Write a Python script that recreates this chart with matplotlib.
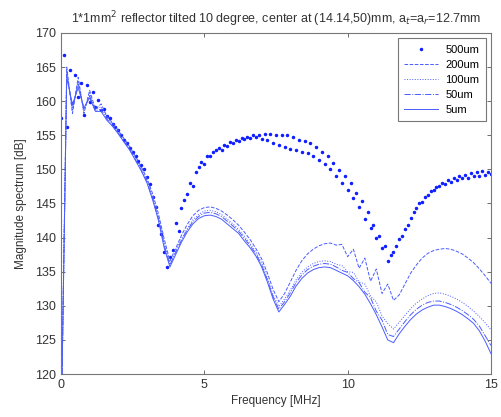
import numpy as np
import matplotlib
matplotlib.use("Agg")
from matplotlib import pyplot as plt

plt.rcParams['font.family'] = ['Liberation Sans', 'DejaVu Sans']

# sample frequencies [MHz]
freq_dots = np.round(np.arange(0, 15.01, 0.1), 1)
freq_lines = np.round(np.arange(0, 15.01, 0.2), 1)

# magnitude spectrum [dB] per surface roughness
mag_500um = [
    157.5, 166.8, 156.2, 164.6, 159.7, 163.9, 160.6, 162.6, 158.0, 162.4,
    159.9, 161.4, 159.2, 160.2, 158.7, 158.9, 157.8, 157.6, 156.6, 156.2,
    155.7, 155.0, 154.3, 153.9, 153.1, 152.6, 151.9, 151.2, 150.6, 150.0,
    148.9, 147.8, 145.9, 144.5, 141.8, 140.6, 137.9, 135.7, 137.2, 138.2,
    142.1, 141.0, 144.3, 145.5, 146.4, 148.0, 147.6, 149.6, 150.3, 151.1,
    150.8, 152.0, 151.9, 152.6, 152.8, 153.2, 152.9, 153.6, 153.5, 154.0,
    153.8, 154.3, 154.1, 154.6, 154.4, 154.8, 154.6, 155.0, 154.7, 155.1,
    154.5, 155.2, 154.3, 155.2, 153.9, 155.1, 153.6, 155.0, 153.3, 155.0,
    153.0, 154.7, 152.8, 154.3, 152.6, 154.1, 152.4, 153.8, 152.0, 153.3,
    151.4, 152.6, 150.8, 151.9, 150.0, 150.9, 149.1, 149.9, 148.0, 149.1,
    147.0, 148.0, 145.8, 146.6, 144.5, 145.3, 142.8, 143.7, 141.4, 141.8,
    140.0, 140.3, 138.5, 138.7, 136.6, 137.5, 137.9, 138.7, 139.8, 140.3,
    141.3, 141.8, 142.9, 143.7, 144.3, 145.1, 145.2, 146.0, 146.2, 146.9,
    147.0, 147.4, 147.5, 148.0, 147.8, 148.4, 148.2, 148.7, 148.4, 149.0,
    148.7, 149.2, 148.8, 149.4, 149.0, 149.6, 149.1, 149.7, 149.2, 149.6,
    149.3,
]

mag_200um = [
    110.0, 165.0, 158.2, 163.5, 158.2, 161.6, 158.8, 159.6, 157.8, 156.8,
    155.7, 154.5, 153.3, 151.9, 150.4, 148.7, 146.4, 143.5, 139.8, 136.6,
    138.4, 140.3, 141.9, 143.2, 144.0, 144.4, 144.5, 144.3, 143.9, 143.3,
    142.6, 141.8, 140.8, 139.7, 138.4, 136.9, 134.8, 132.4, 130.6, 131.8,
    133.5, 135.2, 136.6, 137.6, 138.3, 138.8, 139.1, 139.2, 138.9, 139.0,
    137.2, 138.3, 135.5, 137.0, 133.6, 135.4, 131.8, 133.2, 130.8, 131.6,
    133.2, 134.8, 136.0, 137.0, 137.7, 138.1, 138.3, 138.4, 138.3, 138.0,
    137.6, 137.0, 136.3, 135.4, 134.4, 133.3,
]

mag_100um = [
    110.0, 164.5, 158.6, 163.0, 158.5, 161.2, 158.7, 159.2, 157.6, 156.6,
    155.5, 154.3, 153.1, 151.6, 150.1, 148.4, 146.0, 143.0, 139.3, 136.2,
    138.0, 139.8, 141.3, 142.6, 143.4, 143.9, 144.0, 143.8, 143.4, 142.7,
    142.0, 141.2, 140.2, 139.1, 137.9, 136.3, 134.1, 131.6, 129.9, 131.0,
    132.3, 133.8, 134.9, 135.7, 136.2, 136.5, 136.6, 136.5, 136.1, 135.9,
    135.0, 134.9, 133.5, 133.2, 131.4, 130.6, 128.5, 127.4, 126.6, 127.6,
    128.6, 129.6, 130.4, 131.0, 131.5, 131.8, 131.9, 131.7, 131.4, 131.0,
    130.5, 129.9, 129.2, 128.4, 127.5, 126.5,
]

mag_50um = [
    110.0, 164.0, 159.0, 162.5, 158.8, 160.8, 158.6, 158.8, 157.4, 156.4,
    155.3, 154.1, 152.9, 151.4, 149.9, 148.2, 145.7, 142.8, 138.9, 136.0,
    137.8, 139.6, 141.1, 142.3, 143.1, 143.6, 143.7, 143.5, 143.1, 142.4,
    141.7, 140.9, 139.9, 138.8, 137.6, 136.0, 133.8, 131.3, 129.5, 130.6,
    131.9, 133.4, 134.5, 135.3, 135.8, 136.1, 136.2, 136.1, 135.7, 135.2,
    134.9, 134.0, 133.4, 132.0, 131.2, 129.2, 127.9, 125.8, 125.5, 126.6,
    127.7, 128.7, 129.5, 130.1, 130.5, 130.7, 130.7, 130.5, 130.2, 129.8,
    129.3, 128.7, 128.0, 127.0, 125.6, 124.2,
]

mag_5um = [
    110.0, 163.5, 159.5, 162.0, 159.0, 160.5, 158.5, 158.5, 157.2, 156.3,
    155.2, 154.0, 152.8, 151.3, 149.8, 148.0, 145.5, 142.5, 138.5, 135.7,
    137.5, 139.3, 140.8, 142.0, 142.8, 143.2, 143.3, 143.1, 142.7, 142.0,
    141.3, 140.6, 139.5, 138.5, 137.3, 135.7, 133.5, 131.0, 129.1, 130.2,
    131.4, 132.9, 134.0, 134.8, 135.3, 135.6, 135.7, 135.6, 135.2, 134.8,
    134.4, 133.7, 132.8, 131.7, 130.3, 128.7, 126.9, 125.0, 124.6, 125.9,
    127.0, 128.0, 128.8, 129.4, 129.8, 130.1, 130.1, 129.9, 129.6, 129.2,
    128.7, 128.1, 127.4, 126.3, 124.8, 123.0,
]

line_col = '#4a5cff'

fig = plt.figure(figsize=(5.02, 4.17), dpi=100)
ax = fig.add_axes([0.1215, 0.103, 0.8565, 0.818])

ax.plot(freq_dots, mag_500um, '.', color='#1020ff', markersize=3, label='500um')
ax.plot(freq_lines, mag_200um, '--', color=line_col, lw=0.7, label='200um')
ax.plot(freq_lines, mag_100um, ':', color=line_col, lw=0.7, label='100um')
ax.plot(freq_lines, mag_50um, '-.', color=line_col, lw=0.7, label='50um')
ax.plot(freq_lines, mag_5um, '-', color=line_col, lw=0.7, label='5um')

ax.set_xlim(0, 15)
ax.set_ylim(120, 170)
ax.set_xticks([0, 5, 10, 15])
ax.set_yticks(np.arange(120, 171, 5))
ax.tick_params(direction='in', top=True, right=True, length=3, width=0.6,
               colors='#555555', labelsize=9, labelcolor='#333333')
for s in ax.spines.values():
    s.set_color('#777777')
    s.set_linewidth(0.8)

ax.set_xlabel('Frequency [MHz]', fontsize=8.5, color='#333333', labelpad=3)
ax.set_ylabel('Magnitude spectrum [dB]', fontsize=8.5, color='#333333', labelpad=6)
ax.set_title('1*1mm$^2$ reflector tilted 10 degree, center at (14.14,50)mm, a$_t$=a$_r$=12.7mm',
             fontsize=9, color='#333333', pad=7)

leg = ax.legend(loc='upper right', fontsize=8, frameon=True, fancybox=False,
                handlelength=3.0, handletextpad=0.7, borderpad=0.6,
                borderaxespad=0.45, labelspacing=0.45)
leg.get_frame().set_edgecolor('#555555')
leg.get_frame().set_linewidth(0.8)

fig.savefig('out.png', dpi=100)
